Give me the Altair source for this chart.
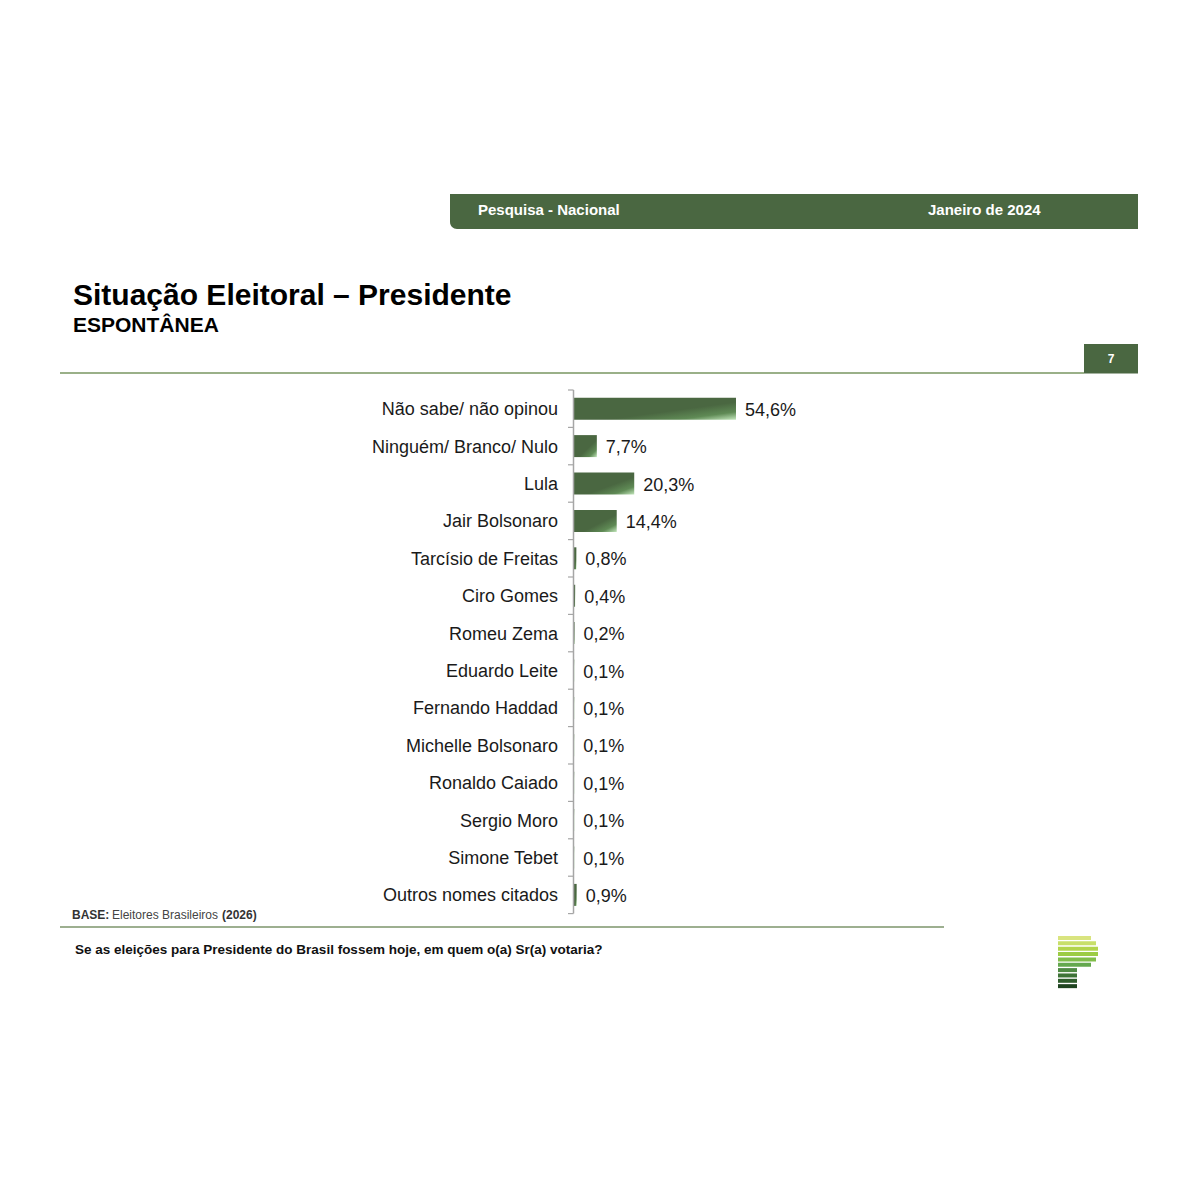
import altair as alt
import pandas as pd

# ---- data ----
names = ["Não sabe/ não opinou", "Ninguém/ Branco/ Nulo", "Lula", "Jair Bolsonaro",
         "Tarcísio de Freitas", "Ciro Gomes", "Romeu Zema", "Eduardo Leite",
         "Fernando Haddad", "Michelle Bolsonaro", "Ronaldo Caiado", "Sergio Moro",
         "Simone Tebet", "Outros nomes citados"]
values = [54.6, 7.7, 20.3, 14.4, 0.8, 0.4, 0.2, 0.1, 0.1, 0.1, 0.1, 0.1, 0.1, 0.9]
labels = [f"{v:.1f}".replace(".", ",") + "%" for v in values]

header_left = "Pesquisa - Nacional"
header_right = "Janeiro de 2024"
title = "Situação Eleitoral – Presidente"
subtitle = "ESPONTÂNEA"
page_no = "7"
base_parts = ["BASE:", "Eleitores Brasileiros", "(2026)"]
question = "Se as eleições para Presidente do Brasil fossem hoje, em quem o(a) Sr(a) votaria?"

logo_colors = ["#d9e47f", "#c8df6a", "#b2d44c", "#9ccc45", "#80bd4a",
               "#64a84e", "#4f8a43", "#3e7337", "#2e5c2b", "#1f4420"]
logo_ends = [1083, 1088, 1090, 1090, 1088, 1083, 1069, 1069, 1069, 1069]

GREEN = "#4a6741"
FONT = "Liberation Sans"

df = pd.DataFrame({"name": names, "value": values, "label": labels})
one = pd.DataFrame({"a": [0]})

yscale = alt.Scale(domain=names, range=[382, 905.6], paddingInner=0.412, paddingOuter=0.206)
xscale = alt.Scale(domain=[0, 100], range=[566, 862.7])
Y = alt.Y("name:N", sort=names, scale=yscale, axis=None)
X = alt.X("value:Q", scale=xscale, axis=None)

grad = alt.Gradient(
    gradient="linear",
    stops=[alt.GradientStop(offset=0, color=GREEN),
           alt.GradientStop(offset=0.6, color=GREEN),
           alt.GradientStop(offset=0.82, color="#5f8a55"),
           alt.GradientStop(offset=1, color="#c2e6bb")],
    x1=0, y1=0, x2=1, y2=1,
)

bars = alt.Chart(df).mark_bar(fill=grad, strokeWidth=0).encode(
    x=X, x2=alt.datum(0), y=Y)
vals = alt.Chart(df).mark_text(align="left", baseline="middle", dx=9, dy=2, fontSize=18,
                               color="#1a1a1a", font=FONT).encode(
    x=X, y=Y, text="label:N")
cats = alt.Chart(df).mark_text(align="right", baseline="middle", dy=1.5, fontSize=18,
                               color="#1a1a1a", font=FONT).encode(
    x=alt.value(550), y=Y, text="name:N")

main = alt.layer(bars, vals, cats)

# axis line and ticks at band boundaries
tick_scale = alt.Scale(domain=names, range=[382, 905.6], paddingInner=0, paddingOuter=0)
ticks = alt.Chart(df).mark_rule(color="#a6a6a6", strokeWidth=1.2).encode(
    y=alt.Y("name:N", sort=names, scale=tick_scale, axis=None, bandPosition=0),
    x=alt.value(560), x2=alt.value(565.5))

deco = []
deco.append(alt.Chart(one).mark_rule(color="#a6a6a6", strokeWidth=1.5).encode(
    x=alt.value(565.5), y=alt.value(382), y2=alt.value(905.6)))
deco.append(alt.Chart(one).mark_rule(color="#a6a6a6", strokeWidth=1.2).encode(
    x=alt.value(560), x2=alt.value(565.5), y=alt.value(905.6)))

# header bar
deco.append(alt.Chart(one).mark_rect(color=GREEN, cornerRadiusBottomLeft=7).encode(
    x=alt.value(442), x2=alt.value(1130), y=alt.value(186), y2=alt.value(221)))
deco.append(alt.Chart(one).mark_text(align="left", baseline="middle", fontSize=15,
                                     fontWeight="bold", color="white", font=FONT).encode(
    x=alt.value(470), y=alt.value(202), text=alt.value(header_left)))
deco.append(alt.Chart(one).mark_text(align="left", baseline="middle", fontSize=15,
                                     fontWeight="bold", color="white", font=FONT).encode(
    x=alt.value(920), y=alt.value(202), text=alt.value(header_right)))

# title
deco.append(alt.Chart(one).mark_text(align="left", baseline="alphabetic", fontSize=30,
                                     fontWeight="bold", color="black", font=FONT).encode(
    x=alt.value(65), y=alt.value(297), text=alt.value(title)))
deco.append(alt.Chart(one).mark_text(align="left", baseline="alphabetic", fontSize=21,
                                     fontWeight="bold", color="black", font=FONT).encode(
    x=alt.value(65), y=alt.value(324), text=alt.value(subtitle)))

# title rule and page number box
deco.append(alt.Chart(one).mark_rule(color="#9ab088", strokeWidth=2).encode(
    x=alt.value(52), x2=alt.value(1076), y=alt.value(365)))
deco.append(alt.Chart(one).mark_rect(color=GREEN).encode(
    x=alt.value(1076), x2=alt.value(1130), y=alt.value(336), y2=alt.value(365.5)))
deco.append(alt.Chart(one).mark_text(align="center", baseline="middle", fontSize=12,
                                     fontWeight="bold", color="white", font=FONT).encode(
    x=alt.value(1103), y=alt.value(351), text=alt.value(page_no)))

# base note
deco.append(alt.Chart(one).mark_text(align="left", baseline="alphabetic", fontSize=12,
                                     fontWeight="bold", color="#333333", font=FONT).encode(
    x=alt.value(64), y=alt.value(911), text=alt.value(base_parts[0])))
deco.append(alt.Chart(one).mark_text(align="left", baseline="alphabetic", fontSize=12,
                                     color="#444444", font=FONT).encode(
    x=alt.value(104), y=alt.value(911), text=alt.value(base_parts[1])))
deco.append(alt.Chart(one).mark_text(align="left", baseline="alphabetic", fontSize=12,
                                     fontWeight="bold", color="#333333", font=FONT).encode(
    x=alt.value(214), y=alt.value(911), text=alt.value(base_parts[2])))

# bottom rule and question
deco.append(alt.Chart(one).mark_rule(color="#7d956b", strokeWidth=1.5).encode(
    x=alt.value(52), x2=alt.value(936), y=alt.value(919)))
deco.append(alt.Chart(one).mark_text(align="left", baseline="alphabetic", fontSize=13.5,
                                     fontWeight="bold", color="#111111", font=FONT).encode(
    x=alt.value(67), y=alt.value(946), text=alt.value(question)))

# logo
for i, (c, e) in enumerate(zip(logo_colors, logo_ends)):
    top = 928 + i * 5.35
    deco.append(alt.Chart(one).mark_rect(color=c).encode(
        x=alt.value(1050), x2=alt.value(e), y=alt.value(top), y2=alt.value(top + 4)))

chart = alt.layer(main, ticks, *deco).resolve_scale(y="independent").properties(
    width=1184, height=1184, padding=0,
    autosize=alt.AutoSizeParams(type="none"),
).configure(font=FONT).configure_view(stroke=None, strokeWidth=0)

chart.save("out.html", embed_options={"renderer": "svg", "actions": False})
